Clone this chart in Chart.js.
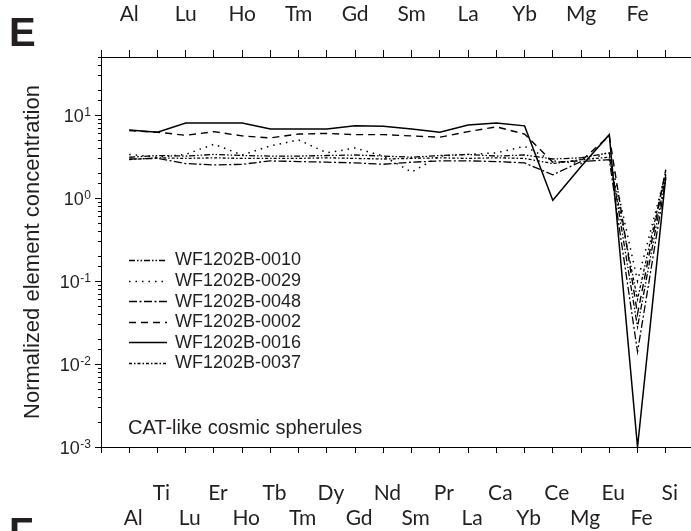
<!DOCTYPE html>
<html><head><meta charset="utf-8">
<script src="https://cdn.jsdelivr.net/npm/chart.js@4.4.0/dist/chart.umd.min.js"></script>
<style>
html,body{margin:0;padding:0;background:#fff;overflow:hidden;}
#c{position:absolute;left:0;top:0;}
</style></head><body>
<canvas id="c" width="700" height="531"></canvas>
<script>
// ---- data ----
const elements = ['Al','Ti','Lu','Er','Ho','Tb','Tm','Dy','Gd','Nd','Sm','Pr','La','Ca','Yb','Ce','Mg','Eu','Fe','Si'];
const seriesNames = ['WF1202B-0010','WF1202B-0029','WF1202B-0048','WF1202B-0002','WF1202B-0016','WF1202B-0037'];
const s0010 = [3.1, 3.25, 3.2, 3.35, 3.25, 3.2, 3.2, 3.25, 3.3, 3.2, 3.1, 3.25, 3.35, 3.2, 3.3, 2.95, 3.05, 3.5, 0.028, 1.9];
const s0029 = [3.35, 3.1, 3.35, 4.45, 3.3, 4.25, 5.0, 3.5, 4.0, 3.2, 2.05, 3.2, 3.35, 3.5, 4.2, 2.8, 2.6, 3.6, 0.1, 2.0];
const s0048 = [2.95, 3.0, 2.6, 2.5, 2.55, 2.8, 2.75, 2.7, 2.65, 2.55, 2.7, 2.8, 2.8, 2.75, 2.65, 1.9, 2.75, 2.9, 0.014, 1.7];
const s0002 = [6.5, 6.2, 5.7, 6.3, 5.6, 5.3, 5.9, 6.0, 5.8, 5.8, 5.6, 5.4, 6.3, 7.2, 5.9, 2.7, 2.8, 5.6, 0.04, 2.2];
const s0016 = [6.6, 6.2, 8.0, 8.0, 8.0, 6.8, 6.8, 6.8, 7.4, 7.3, 6.8, 6.2, 7.6, 8.0, 7.4, 0.94, 2.4, 5.8, 0.001, 1.8];
const s0037 = [2.9, 3.05, 3.0, 3.05, 3.0, 3.0, 3.0, 3.05, 3.0, 2.95, 3.0, 3.05, 3.0, 3.05, 3.0, 2.6, 2.9, 3.1, 0.06, 2.1];
const yMin = 0.001, yMax = 50;
const yTickExponents = ['-3','-2','-1','0','1'];
const yTitle = 'Normalized element concentration';
const noteText = 'CAT-like cosmic spherules';
const panelLetter = 'E', nextPanelLetter = 'F';

// ---- build ----
const TXT = '#231f20';
const labels = [''].concat(elements).concat(['']);
const pad = arr => [null].concat(arr).concat([null]);
const styles = [
  {dash:[6,2,1.5,2,1.5,2], w:1.3},
  {dash:[1.5,5], w:1.5},
  {dash:[8,2.5,2,2.5], w:1.3},
  {dash:[7,5], w:1.4},
  {dash:[], w:1.5},
  {dash:[3,2,1.5,2], w:1.3}
];
const allSeries = [s0010, s0029, s0048, s0002, s0016, s0037];
const datasets = allSeries.map((s,i)=>({
  label: seriesNames[i], data: pad(s), borderColor:'#000', borderWidth: styles[i].w,
  borderDash: styles[i].dash, pointRadius:0, fill:false, tension:0
}));

const decor = {
  id:'decor',
  afterDraw(chart){
    const ctx = chart.ctx, y = chart.scales.y, area = chart.chartArea;
    ctx.save();
    ctx.strokeStyle = '#000'; ctx.lineWidth = 1;
    y.ticks.forEach(t=>{
      const v = t.value; const py = Math.round(y.getPixelForValue(v)) + 0.5;
      if (py < area.top - 1 || py > area.bottom + 1) return;
      const lg = Math.log10(v); const major = Math.abs(lg - Math.round(lg)) < 1e-9;
      ctx.beginPath(); ctx.moveTo(area.left - (major?6:3), py); ctx.lineTo(area.left, py); ctx.stroke();
    });
    [0.001,0.01,0.1,1,10].forEach((v,i)=>{
      const py = y.getPixelForValue(v);
      const ex = yTickExponents[i];
      ctx.fillStyle = TXT;
      ctx.font = '12px "Liberation Sans", Arial, sans-serif';
      const ew = ctx.measureText(ex).width;
      ctx.textAlign = 'left'; ctx.textBaseline = 'alphabetic';
      const right = area.left - 10;
      ctx.fillText(ex, right - ew, py + 0.5);
      ctx.font = '18px "Liberation Sans", Arial, sans-serif';
      ctx.textAlign = 'right';
      ctx.fillText('10', right - ew - 0.5, py + 6.5);
    });
    chart.data.datasets.forEach((ds,i)=>{
      const ly = 260 + i*20.6;
      ctx.save();
      ctx.setLineDash(ds.borderDash); ctx.lineWidth = ds.borderWidth; ctx.strokeStyle = '#000';
      ctx.beginPath(); ctx.moveTo(129, Math.round(ly)+0.5); ctx.lineTo(167, Math.round(ly)+0.5); ctx.stroke();
      ctx.restore();
      ctx.fillStyle = TXT; ctx.font = '18px "Liberation Sans", Arial, sans-serif';
      ctx.textAlign = 'left'; ctx.textBaseline = 'middle';
      ctx.fillText(ds.label, 175, ly + 0.5);
    });
    ctx.fillStyle = TXT; ctx.font = '20px "Liberation Sans", Arial, sans-serif';
    ctx.textAlign = 'left'; ctx.textBaseline = 'middle';
    ctx.fillText(noteText, 128, 428);
    ctx.font = 'bold 40px "Liberation Sans", Arial, sans-serif';
    ctx.textBaseline = 'alphabetic';
    ctx.fillText(panelLetter, 9, 46);
    ctx.fillText(nextPanelLetter, 9, 546);
    ctx.restore();
  }
};

new Chart(document.getElementById('c'), {
  type:'line',
  data:{labels, datasets},
  options:{
    responsive:false, maintainAspectRatio:false, animation:false, devicePixelRatio:1,
    layout:{padding:{left:0, top:0, right:6, bottom:0}, autoPadding:false},
    plugins:{legend:{display:false}, tooltip:{enabled:false}},
    scales:{
      x:{
        type:'category', position:'bottom', offset:false,
        grid:{display:true, drawOnChartArea:false, drawTicks:true, tickLength:6, tickColor:'#000', tickWidth:1, offset:false},
        border:{display:true, color:'#000', width:1},
        ticks:{
          autoSkip:false, maxRotation:0, minRotation:0, padding:28, labelOffset:4, color:TXT,
          font:{family:'Lato, "Open Sans", sans-serif', size:21, lineHeight:'25px'},
          callback:(v,i)=>{ const k=i-1; if(k<0||k>=elements.length) return ''; return k%2===0 ? ['', elements[k]] : [elements[k], '']; }
        },
        afterFit:s=>{ s.height = 84; s.paddingLeft = 0; s.paddingRight = 0; }
      },
      x2:{
        type:'category', position:'top', offset:false,
        grid:{display:true, drawOnChartArea:false, drawTicks:true, tickLength:7, tickColor:'#000', tickWidth:1, offset:false},
        border:{display:true, color:'#000', width:1},
        ticks:{
          autoSkip:false, maxRotation:0, minRotation:0, padding:23, color:TXT,
          font:{family:'Lato, "Open Sans", sans-serif', size:21, lineHeight:'25px'},
          callback:(v,i)=>{ const k=i-1; if(k<0||k>=elements.length) return ''; return k%2===0 ? elements[k] : ''; }
        },
        afterFit:s=>{ s.height = 57; s.paddingLeft = 0; s.paddingRight = 0; }
      },
      y:{
        type:'logarithmic', min:yMin, max:yMax, position:'left',
        grid:{display:false},
        border:{display:true, color:'#000', width:1},
        ticks:{autoSkip:false, callback:()=>'' },
        title:{display:true, text:yTitle, color:TXT, padding:{top:20, bottom:0},
          font:{family:'"Liberation Sans", Arial, sans-serif', size:22, lineHeight:1.2}},
        afterFit:s=>{ s.width = 101; s.paddingTop = 0; s.paddingBottom = 0; }
      }
    }
  },
  plugins:[decor]
});
</script>
</body></html>
